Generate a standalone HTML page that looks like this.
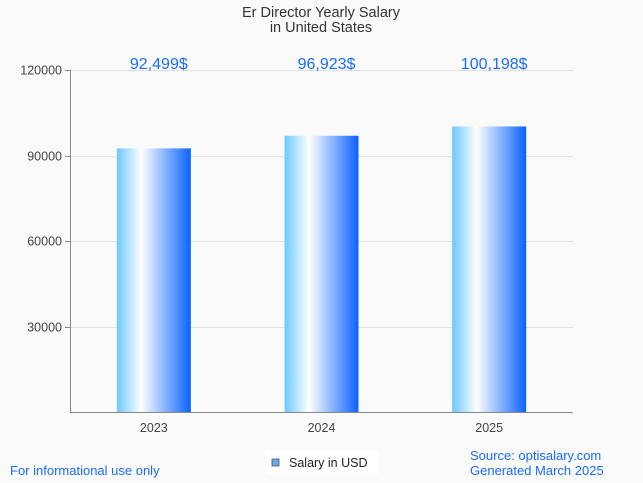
<!DOCTYPE html>
<html><head><meta charset="utf-8"><style>
body{margin:0;background:#fafafa;font-family:"Liberation Sans",Arial,sans-serif;}
#wrap{position:relative;width:643px;height:483px;overflow:hidden;background:#fafafa;}
</style></head><body>
<div id="wrap">
<svg id="chart" width="643" height="483">
<defs>
<linearGradient id="bg" x1="0" x2="1" y1="0" y2="0">
<stop offset="0" stop-color="#6cc8ff"/>
<stop offset="0.33" stop-color="#ffffff"/>
<stop offset="1" stop-color="#0a62ff"/>
</linearGradient>
</defs>
<text x="321" y="17" text-anchor="middle" font-size="14.5" fill="#333">Er Director Yearly Salary</text>
<text x="321" y="32" text-anchor="middle" font-size="14.5" fill="#333">in United States</text>
<g id="grid"></g>
<g id="bars"></g>
<line x1="70.5" y1="70" x2="70.5" y2="412" stroke="#888"/>
<line x1="70" y1="412.5" x2="573" y2="412.5" stroke="#888"/>
<rect x="266" y="451" width="112" height="23" fill="#fff"/>
<rect x="272" y="459" width="7" height="7" fill="#6aa9e8" stroke="#555" stroke-width="0.8"/>
<text x="289" y="467" font-size="12.5" fill="#222">Salary in USD</text>
<text x="10" y="475" font-size="13" fill="#1a6cff">For informational use only</text>
<text x="470" y="460" font-size="13" fill="#1a6cff">Source: optisalary.com</text>
<text x="470" y="475" font-size="13" fill="#1a6cff">Generated March 2025</text>
</svg>
</div>
<script>
const categories = ["2023","2024","2025"];
const salaries = [92499, 96923, 100198];
const valueLabels = ["92,499$","96,923$","100,198$"];
const ticks = [30000, 60000, 90000, 120000];

const NS = "http://www.w3.org/2000/svg";
const x0 = 70, x1 = 573, yTop = 70, yBot = 412, yMax = 120000;
const yScale = v => yBot - v / yMax * (yBot - yTop);
const band = (x1 - x0) / categories.length;
const xCenter = i => x0 + band * (i + 0.5);
const barW = 74;

const grid = document.getElementById('grid');
ticks.forEach(t => {
  const y = Math.round(yScale(t)) + 0.5;
  const l = document.createElementNS(NS, 'line');
  l.setAttribute('x1', x0); l.setAttribute('x2', x1);
  l.setAttribute('y1', y); l.setAttribute('y2', y);
  l.setAttribute('stroke', '#e2e2e2');
  
  
  grid.appendChild(l);
  const tk = document.createElementNS(NS, 'line');
  tk.setAttribute('x1', x0 - 5); tk.setAttribute('x2', x0);
  tk.setAttribute('y1', y); tk.setAttribute('y2', y);
  tk.setAttribute('stroke', '#888');
  
  
  grid.appendChild(tk);
  const tx = document.createElementNS(NS, 'text');
  tx.setAttribute('x', x0 - 8); tx.setAttribute('y', y + 4);
  tx.setAttribute('text-anchor', 'end'); tx.setAttribute('font-size', '12.5');
  tx.setAttribute('fill', '#444');
  tx.textContent = t;
  
  
  grid.appendChild(tx);
});

const bars = document.getElementById('bars');
categories.forEach((c, i) => {
  const cx = xCenter(i);
  const y = yScale(salaries[i]);
  const r = document.createElementNS(NS, 'rect');
  r.setAttribute('x', cx - barW / 2); r.setAttribute('y', y);
  r.setAttribute('width', barW); r.setAttribute('height', yBot - y);
  r.setAttribute('fill', 'url(#bg)');
  
  
  bars.appendChild(r);
  const v = document.createElementNS(NS, 'text');
  v.setAttribute('x', cx + 5); v.setAttribute('y', 69);
  v.setAttribute('text-anchor', 'middle'); v.setAttribute('font-size', '16');
  v.setAttribute('fill', '#1a6cff');
  v.textContent = valueLabels[i];
  
  
  bars.appendChild(v);
  const xl = document.createElementNS(NS, 'text');
  xl.setAttribute('x', cx); xl.setAttribute('y', 432);
  xl.setAttribute('text-anchor', 'middle'); xl.setAttribute('font-size', '12.5');
  xl.setAttribute('fill', '#444');
  xl.textContent = c;
  
  
  bars.appendChild(xl);
});
</script>
</body></html>
